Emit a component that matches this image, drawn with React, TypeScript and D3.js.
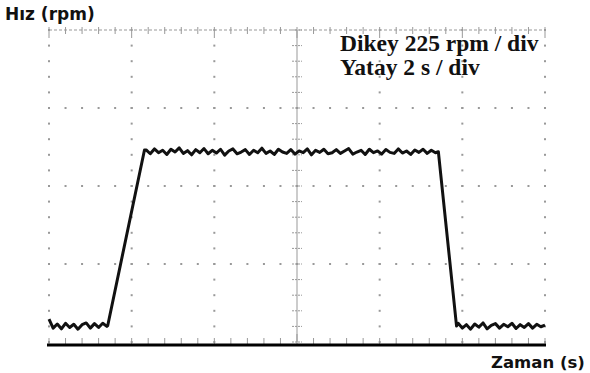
import React from 'react';
import * as d3 from 'd3';

const width = 590;
const height = 373;
const plot = { left: 49, right: 545, top: 30, bottom: 342 };

// scope settings: 2 s / div horizontally, 225 rpm / div vertically
const xDivs = [0, 2, 4, 6, 8, 10, 12];
const yDivs = [0, 225, 450, 675, 900];
const xMinorStep = 0.4;
const yMinorStep = 45;

// speed trace (s, rpm)
const sampleStep = 0.1;
const lowStart = 0;
const lowValues = [66, 40, 52, 38, 54, 42, 51, 37, 50, 55, 40, 53, 42, 54, 45];
const riseStart = { t: 1.42, rpm: 47 };
const riseEnd = { t: 2.31, rpm: 554 };
const highStart = 2.35;
const highValues = [
	554, 543, 557, 546, 553, 541, 556, 548, 560, 544, 552, 540, 555, 546, 558, 543,
	553, 545, 556, 539, 551, 557, 543, 548, 555, 541, 553, 546, 559, 544, 551, 541,
	556, 548, 544, 555, 542, 551, 546, 557, 540, 553, 547, 556, 543, 546, 555, 544,
	551, 558, 542, 548, 553, 541, 556, 546, 551, 542, 555, 547, 544, 557, 545, 551,
	541, 554, 547, 556, 544, 553, 546
];
const fallStart = { t: 9.42, rpm: 549 };
const fallEnd = { t: 9.86, rpm: 46 };
const low2Start = 9.9;
const low2Values = [54, 40, 50, 37, 52, 43, 55, 38, 48, 53, 40, 51, 44, 54, 39, 50, 42, 53, 40, 51, 44, 49];

const x = d3.scaleLinear().domain([0, 12]).range([plot.left, plot.right]);
const y = d3.scaleLinear().domain([0, 900]).range([plot.bottom, plot.top]);

type Pt = { t: number; rpm: number };
const trace: Pt[] = [
	...lowValues.map((v, i) => ({ t: lowStart + i * sampleStep, rpm: v })),
	riseStart,
	riseEnd,
	...highValues.map((v, i) => ({ t: highStart + i * sampleStep, rpm: v })),
	fallStart,
	fallEnd,
	...low2Values.map((v, i) => ({ t: low2Start + i * sampleStep, rpm: v }))
].filter((d) => d.t <= 12);

const line = d3
	.line<Pt>()
	.x((d) => x(d.t))
	.y((d) => y(d.rpm));

const grey = '#999';

export default function App() {
	const xMinor = d3.range(0, 12 + 1e-6, xMinorStep);
	const yMinor = d3.range(0, 900 + 1e-6, yMinorStep);
	const xMid = x(6);

	return (
		<svg width={width} height={height} style={{ position: 'absolute', left: 0, top: 0, background: '#fff' }}>
			{/* dotted grid columns */}
			{xDivs.filter((d) => d !== 6).map((d) =>
				yMinor.map((v) => (
					<rect key={`c${d}-${v}`} x={x(d) - 1} y={y(v) - 1} width={2} height={2} fill={grey} />
				))
			)}
			{/* dotted grid rows */}
			{yDivs.slice(1, 4).map((v) =>
				xMinor.map((d) => (
					<rect key={`r${v}-${d}`} x={x(d) - 1} y={y(v) - 1} width={2} height={2} fill={grey} />
				))
			)}
			{/* centre vertical axis */}
			<line x1={xMid} x2={xMid} y1={plot.top} y2={plot.bottom} stroke={grey} strokeWidth={1} />
			{yMinor.map((v) => (
				<line key={`cy${v}`} x1={xMid - 5} x2={xMid + 5} y1={y(v)} y2={y(v)} stroke={grey} strokeWidth={1} strokeDasharray="2,1" />
			))}
			{/* top border */}
			<line x1={plot.left} x2={plot.right} y1={plot.top} y2={plot.top} stroke={grey} strokeDasharray="3,2" />
			{xMinor.map((d) => (
				<line
					key={`tt${d}`}
					x1={x(d)}
					x2={x(d)}
					y1={plot.top - 3}
					y2={plot.top + (Math.abs(d - Math.round(d / 2) * 2) < 1e-6 ? 8 : 4)}
					stroke={grey}
				/>
			))}
			{/* bottom ticks + baseline */}
			{xMinor.map((d) => (
				<line
					key={`bt${d}`}
					x1={x(d)}
					x2={x(d)}
					y1={plot.bottom - (Math.abs(d - 6) < 1e-6 ? 8 : 4)}
					y2={plot.bottom + 2}
					stroke={grey}
				/>
			))}
			<line x1={plot.left - 2} x2={plot.right + 1} y1={plot.bottom + 3} y2={plot.bottom + 3} stroke="#000" strokeWidth={3} />
			{/* trace */}
			<path d={line(trace) ?? ''} fill="none" stroke="#111" strokeWidth={3} strokeLinejoin="round" />
			{/* labels */}
			<text x={5} y={20} fontFamily="DejaVu Sans" fontWeight="bold" fontSize={17} fill="#111">
				Hız (rpm)
			</text>
			<text x={491} y={368} fontFamily="DejaVu Sans" fontWeight="bold" fontSize={16.5} fill="#111">
				Zaman (s)
			</text>
			<text x={340} y={51} fontFamily="Liberation Serif" fontWeight="bold" fontSize={23.5} fill="#111">
				Dikey 225 rpm / div
			</text>
			<text x={340} y={75} fontFamily="Liberation Serif" fontWeight="bold" fontSize={23.5} fill="#111">
				Yatay 2 s / div
			</text>
		</svg>
	);
}
